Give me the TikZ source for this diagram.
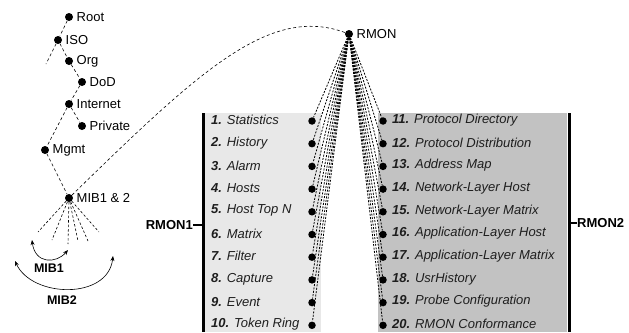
\documentclass[tikz,border=0pt]{standalone}
\usepackage{fontspec}
\setmainfont{Liberation Sans}
\usetikzlibrary{arrows.meta}
\definecolor{boxA}{HTML}{E8E8E8}
\definecolor{boxB}{HTML}{C2C2C2}
\definecolor{txt}{HTML}{1E1E1E}
\tikzset{
  dot/.style={circle,fill=black,inner sep=0pt,minimum size=8pt},
  sdot/.style={circle,fill=black,inner sep=0pt,minimum size=7.5pt},
  treelbl/.style={label distance=0pt,font=\fontsize{13}{15}\selectfont},
  tline/.style={line width=0.6pt,dash pattern=on 3pt off 2.5pt},
  fanline/.style={line width=0.8pt,dash pattern=on 2pt off 1.4pt},
  mibfan/.style={line width=0.6pt,dash pattern=on 2.5pt off 2pt},
  item/.style={anchor=west,inner sep=0pt,text=txt,font=\fontsize{13}{15}\selectfont\itshape},
  biglbl/.style={font=\fontsize{13}{15}\selectfont\bfseries,inner sep=0pt},
  thick3/.style={line width=3pt},
  arc/.style={line width=0.6pt,{Stealth[length=5pt,width=4pt]}-{Stealth[length=5pt,width=4pt]}}
}
\begin{document}
\begin{tikzpicture}[x=1pt,y=-1pt]
\useasboundingbox (0,0) rectangle (629,332);
% boxes
\fill[boxA] (205,113) rectangle (321,332);
\fill[boxB] (378,113) rectangle (567,332);
\draw[thick3] (203.5,113) -- (203.5,332);
\draw[thick3] (569,113) -- (569,332);
\node[biglbl,anchor=east] (rmon1) at (193,225) {RMON1};
\node[biglbl,anchor=west] (rmon2) at (577,223) {RMON2};
\draw[line width=2pt] (rmon1.east) -- (203.5,225);
\draw[line width=2pt] (569,223) -- (rmon2.west);
% tree
\node[dot,label={[treelbl]right:Root}] (root) at (69,17) {};
\node[dot,label={[treelbl]right:ISO}] (iso) at (58,40) {};
\node[dot,label={[treelbl]right:Org}] (org) at (69,61) {};
\node[dot,label={[treelbl]right:DoD}] (dod) at (82,82) {};
\node[dot,label={[treelbl]right:Internet}] (inet) at (69,104) {};
\node[dot,label={[treelbl]right:Private}] (priv) at (82,126) {};
\node[dot,label={[treelbl]right:Mgmt}] (mgmt) at (45,150) {};
\node[dot,label={[treelbl]right:MIB1 \& 2}] (mib) at (69,198) {};
\node[dot,label={[treelbl]right:RMON}] (rmon) at (349,34) {};
\coordinate (isox) at (46,64);
\draw[tline] (root) -- (iso);
\draw[tline] (iso) -- (isox);
\draw[tline] (iso) -- (org);
\draw[tline] (org) -- (dod);
\draw[tline] (dod) -- (inet);
\draw[tline] (inet) -- (priv);
\draw[tline] (inet) -- (mgmt);
\draw[tline] (mgmt) -- (mib);
\draw[tline] (mib) .. controls (200,70) and (270,5) .. (rmon);
% fan below MIB
\coordinate (mf1) at (38,232);
\coordinate (mf2) at (52,240);
\coordinate (mf3) at (68,244);
\coordinate (mf4) at (78,241);
\coordinate (mf5) at (88,241);
\coordinate (mf6) at (99,232);
\draw[mibfan] (mib) -- (mf1);
\draw[mibfan] (mib) -- (mf2);
\draw[mibfan] (mib) -- (mf3);
\draw[mibfan] (mib) -- (mf4);
\draw[mibfan] (mib) -- (mf5);
\draw[mibfan] (mib) -- (mf6);
% MIB arcs
\coordinate (m1a) at (32,240);
\coordinate (m1b) at (68,250);
\coordinate (m2a) at (15,261);
\coordinate (m2b) at (113,256);
\draw[arc] (m1a) .. controls (35,264) and (56,264) .. (m1b);
\draw[arc] (m2a) .. controls (32,298) and (108,300) .. (m2b);
\node[biglbl,font=\fontsize{12.5}{14}\selectfont\bfseries] (mib1) at (49,268) {MIB1};
\node[biglbl,font=\fontsize{12.5}{14}\selectfont\bfseries] (mib2) at (62,300) {MIB2};
% items
\foreach \n/\t [count=\i] in {1/Statistics,2/History,3/Alarm,4/Hosts,5/Host Top N,6/Matrix,7/Filter,8/Capture,9/Event,10/Token Ring}{
  \pgfmathsetmacro{\yy}{120+(\i-1)*22.7}
  \node[item] (li\i) at (211,\yy) {\textbf{\n.} \t};
  \node[sdot] (ld\i) at (312,\yy+1) {};
  \draw[fanline] (rmon) -- (ld\i);
}
\foreach \n/\t [count=\i] in {11/Protocol Directory,12/Protocol Distribution,13/Address Map,14/Network-Layer Host,15/Network-Layer Matrix,16/Application-Layer Host,17/Application-Layer Matrix,18/UsrHistory,19/Probe Configuration,20/RMON Conformance}{
  \pgfmathsetmacro{\yy}{120+(\i-1)*22.7}
  \node[item] (ri\i) at (392,\yy) {\textbf{\n.} \t};
  \node[sdot] (rd\i) at (383,\yy+1) {};
  \draw[fanline] (rmon) -- (rd\i);
}
\end{tikzpicture}
\end{document}
